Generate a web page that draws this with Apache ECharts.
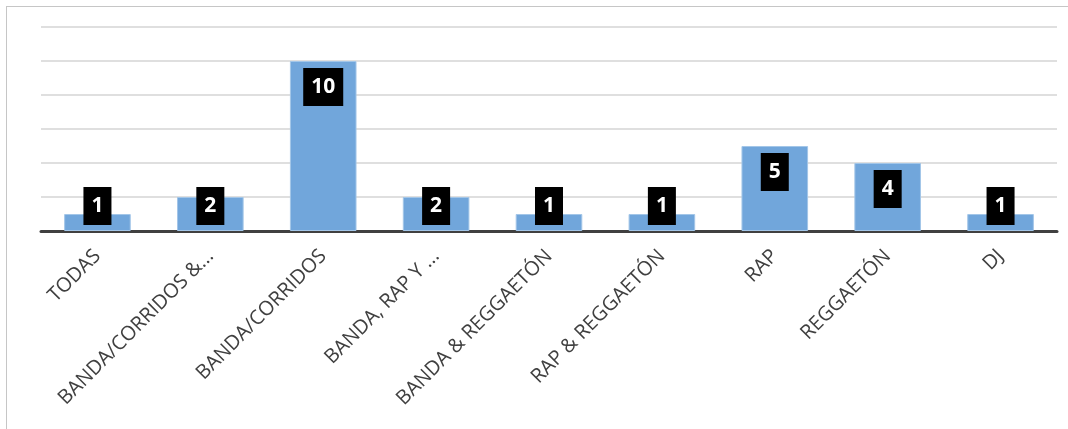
<!DOCTYPE html>
<html>
<head>
<meta charset="utf-8">
<script src="https://cdn.jsdelivr.net/npm/echarts@6/dist/echarts.min.js"></script>
<style>
  html, body { margin: 0; padding: 0; background: #ffffff; }
  #frame {
    position: absolute; left: 6px; top: 6px; width: 1100px; height: 460px;
    border-left: 1.5px solid #c6c6c6; border-top: 1.5px solid #c6c6c6;
  }
  #chart { position: absolute; left: 0; top: 0; width: 1068px; height: 429px; }
</style>
</head>
<body>
<div id="frame"></div>
<div id="chart"></div>
<script>
// Music genres and number of mentions per genre
const categories = [
  'TODAS',
  'BANDA/CORRIDOS &...',
  'BANDA/CORRIDOS',
  'BANDA, RAP Y ...',
  'BANDA & REGGAETÓN',
  'RAP & REGGAETÓN',
  'RAP',
  'REGGAETÓN',
  'DJ'
];
const counts = [1, 2, 10, 2, 1, 1, 5, 4, 1];

// Value axis range (grid lines every 2)
const yMin = 0, yMax = 12, yStep = 2;

// Short bars cannot hold the label box inside, so the box sits just above the axis
const labelFor = (v) => v >= 3
  ? { position: 'insideTop', distance: 7 }
  : { position: 'insideBottom', distance: 6 };

const chart = echarts.init(document.getElementById('chart'), null, { renderer: 'canvas' });

chart.setOption({
  animation: false,
  backgroundColor: 'transparent',
  grid: { left: 41, right: 11, top: 27, bottom: 198, containLabel: false },
  xAxis: {
    type: 'category',
    data: categories,
    axisLine: { show: true, lineStyle: { color: '#404040', width: 3 } },
    axisTick: { show: false },
    axisLabel: {
      rotate: 45,
      interval: 0,
      margin: 22,
      color: '#404040',
      fontFamily: 'Open Sans',
      fontSize: 20
    }
  },
  yAxis: {
    type: 'value',
    min: yMin, max: yMax, interval: yStep,
    axisLine: { show: false },
    axisTick: { show: false },
    axisLabel: { show: false },
    splitLine: { lineStyle: { color: '#d4d4d4', width: 1.5 } }
  },
  series: [{
    type: 'bar',
    barWidth: '59%',
    data: counts.map(v => ({ value: v, label: labelFor(v) })),
    itemStyle: { color: '#71a6db', borderColor: '#a3c6e8', borderWidth: 1 },
    label: {
      show: true,
      color: '#ffffff',
      backgroundColor: '#000000',
      fontFamily: 'Open Sans',
      fontWeight: 'bold',
      fontSize: 21,
      lineHeight: 22,
      padding: [8, 8, 8, 8]
    }
  }]
});
</script>
</body>
</html>
